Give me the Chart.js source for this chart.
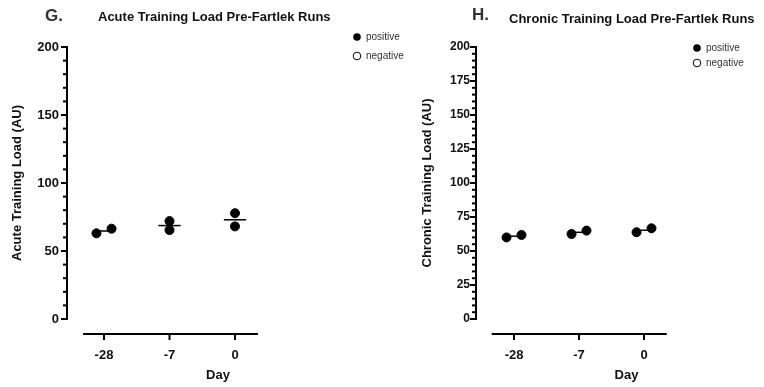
<!DOCTYPE html>
<html>
<head>
<meta charset="utf-8">
<title>Training load pre-fartlek runs</title>
<script src="https://cdn.jsdelivr.net/npm/chart.js@4.4.0/dist/chart.umd.min.js"></script>
<style>
  html, body { margin: 0; padding: 0; background: #fff; overflow: hidden; }
  body { width: 764px; height: 387px; position: relative; }
  .panel { position: absolute; top: 0; height: 387px; }
  #acutePanel { left: 0; width: 415px; }
  #chronicPanel { left: 400px; width: 400px; }
</style>
</head>
<body>
<div class="panel" id="acutePanel"><canvas id="acuteChart"></canvas></div>
<div class="panel" id="chronicPanel"><canvas id="chronicChart"></canvas></div>
<script>
// categories (x axis)
const days = ['-28', '-7', '0'];

// G. acute training load, two runners per day
const acutePositive = [[63.0, 66.4], [72.0, 65.4], [77.8, 68.1]];
const acuteNegative = [];
const acuteJitter = [[-0.115, 0.115], [0, 0], [0, 0]];
const acuteYTicks = [0, 50, 100, 150, 200];

// H. chronic training load
const chronicPositive = [[60.0, 61.8], [62.5, 65.0], [63.8, 66.7]];
const chronicNegative = [];
const chronicJitter = [[-0.115, 0.115], [-0.115, 0.115], [-0.115, 0.115]];
const chronicYTicks = [0, 25, 50, 75, 100, 125, 150, 175, 200];

const FONT = '"Liberation Sans", Arial, Helvetica, sans-serif';

// prism style axes: offset x axis, minor ticks on y
const prismAxes = {
  id: 'prismAxes',
  afterDraw(chart, args, opts) {
    const { ctx, chartArea } = chart;
    const x = chart.scales.x, y = chart.scales.y;
    const seg = (x1, y1, x2, y2) => { ctx.beginPath(); ctx.moveTo(x1, y1); ctx.lineTo(x2, y2); ctx.stroke(); };
    ctx.save();
    ctx.strokeStyle = '#000';
    ctx.lineWidth = 2;
    const yx = chartArea.left;
    seg(yx, y.getPixelForValue(y.max) - 1, yx, y.getPixelForValue(y.min) + 1);
    const n = Math.round((y.max - y.min) / opts.minorStep);
    for (let i = 0; i <= n; i++) {
      const v = y.min + i * opts.minorStep;
      const py = y.getPixelForValue(v);
      const major = y.ticks.some(t => Math.abs(t.value - v) < 1e-6);
      seg(yx - (major ? 6 : 4), py, yx, py);
    }
    const xy = chartArea.bottom + opts.xGap;
    seg(x.getPixelForValue(opts.xFrom), xy, x.getPixelForValue(opts.xTo), xy);
    x.ticks.forEach(t => {
      const px = x.getPixelForValue(t.value);
      seg(px, xy, px, xy + 6);
    });
    ctx.restore();
  }
};

// panel letter, title and small legend
const panelHeader = {
  id: 'panelHeader',
  afterDraw(chart, args, opts) {
    const ctx = chart.ctx;
    ctx.save();
    ctx.textBaseline = 'middle';
    ctx.textAlign = 'left';
    ctx.fillStyle = '#333';
    ctx.font = 'bold 17px ' + FONT;
    ctx.fillText(opts.letter, opts.letterX, opts.letterY);
    ctx.fillStyle = '#111';
    ctx.font = 'bold 13px ' + FONT;
    ctx.fillText(opts.title, opts.titleX, opts.titleY);

    ctx.font = '10px ' + FONT;
    chart.data.datasets.filter(ds => ds.legendItem).forEach((ds, i) => {
      const cy = opts.legendY + i * opts.legendGap;
      ctx.beginPath();
      ctx.arc(opts.legendX, cy, 3.8, 0, Math.PI * 2);
      if (ds.filled) {
        ctx.fillStyle = '#000';
        ctx.fill();
      } else {
        ctx.strokeStyle = '#000';
        ctx.lineWidth = 1;
        ctx.stroke();
      }
      ctx.fillStyle = '#333';
      ctx.fillText(ds.label, opts.legendX + 9, cy);
    });
    ctx.restore();
  }
};

function toPoints(values, jitter) {
  const pts = [];
  values.forEach((vals, i) => vals.forEach((v, j) => pts.push({ x: i + jitter[i][j], y: v })));
  return pts;
}

function meanLines(values) {
  return values.map((vals, i) => {
    const m = vals.reduce((a, b) => a + b, 0) / vals.length;
    return {
      label: 'mean ' + days[i],
      data: [{ x: i - 0.17, y: m }, { x: i + 0.17, y: m }],
      showLine: true,
      pointRadius: 0,
      borderColor: '#000',
      borderWidth: 1.5
    };
  });
}

function buildChart(id, cfg) {
  const datasets = [
    {
      label: 'positive',
      legendItem: true,
      filled: true,
      data: toPoints(cfg.positive, cfg.jitter),
      pointRadius: 4.5,
      pointBackgroundColor: '#000',
      pointBorderColor: '#000',
      pointBorderWidth: 1
    },
    {
      label: 'negative',
      legendItem: true,
      filled: false,
      data: cfg.negative,
      pointRadius: 4.5,
      pointBackgroundColor: '#fff',
      pointBorderColor: '#000',
      pointBorderWidth: 1
    },
    ...meanLines(cfg.positive)
  ];

  return new Chart(document.getElementById(id), {
    type: 'scatter',
    data: { datasets: datasets },
    plugins: [prismAxes, panelHeader],
    options: {
      responsive: true,
      maintainAspectRatio: false,
      animation: false,
      events: [],
      layout: { padding: { left: 0, top: 47, right: cfg.padRight, bottom: 0 } },
      plugins: {
        legend: { display: false },
        tooltip: { enabled: false },
        prismAxes: { minorStep: cfg.minorStep, xGap: 15, xFrom: cfg.xFrom, xTo: 2.35 },
        panelHeader: cfg.header
      },
      scales: {
        x: {
          type: 'linear',
          min: cfg.xMin,
          max: cfg.xMax,
          afterBuildTicks: s => { s.ticks = days.map((d, i) => ({ value: i })); },
          afterFit: s => { s.height = 68; },
          ticks: {
            callback: v => days[v],
            autoSkip: false,
            maxRotation: 0,
            padding: 29,
            color: '#111',
            font: { family: FONT, size: 13, weight: 'bold' }
          },
          grid: { display: false, drawTicks: false },
          border: { display: false },
          title: {
            display: true,
            text: 'Day',
            color: '#111',
            padding: { top: 0, bottom: 4 },
            font: { family: FONT, size: 13, weight: 'bold' }
          }
        },
        y: {
          min: 0,
          max: 200,
          afterBuildTicks: s => { s.ticks = cfg.yTicks.map(v => ({ value: v })); },
          afterFit: s => { s.width = cfg.yWidth; },
          ticks: {
            padding: cfg.yTickPad,
            color: '#111',
            font: { family: FONT, size: cfg.yTickSize, weight: 'bold' }
          },
          grid: { display: false, drawTicks: false },
          border: { display: false },
          title: {
            display: true,
            text: cfg.yTitle,
            color: '#111',
            padding: { top: cfg.yTitlePad, bottom: 0 },
            font: { family: FONT, size: 13, weight: 'bold' }
          }
        }
      }
    }
  });
}

buildChart('acuteChart', {
  positive: acutePositive,
  negative: acuteNegative,
  jitter: acuteJitter,
  yTicks: acuteYTicks,
  minorStep: 10,
  yTitle: 'Acute Training Load (AU)',
  yWidth: 67,
  yTickPad: 8,
  yTickSize: 13,
  yTitlePad: 10,
  padRight: 46,
  xMin: -0.565,
  xMax: 4.046,
  xFrom: -0.32,
  header: {
    letter: 'G.', letterX: 45, letterY: 16,
    title: 'Acute Training Load Pre-Fartlek Runs', titleX: 98, titleY: 17,
    legendX: 357, legendY: 37, legendGap: 19
  }
});

buildChart('chronicChart', {
  positive: chronicPositive,
  negative: chronicNegative,
  jitter: chronicJitter,
  yTicks: chronicYTicks,
  minorStep: 5,
  yTitle: 'Chronic Training Load (AU)',
  yWidth: 76,
  yTickPad: 6,
  yTickSize: 12,
  yTitlePad: 20,
  padRight: 23,
  xMin: -0.585,
  xMax: 4.046,
  xFrom: -0.343,
  header: {
    letter: 'H.', letterX: 72, letterY: 15,
    title: 'Chronic Training Load Pre-Fartlek Runs', titleX: 109, titleY: 19,
    legendX: 297, legendY: 48, legendGap: 15
  }
});
</script>
</body>
</html>
